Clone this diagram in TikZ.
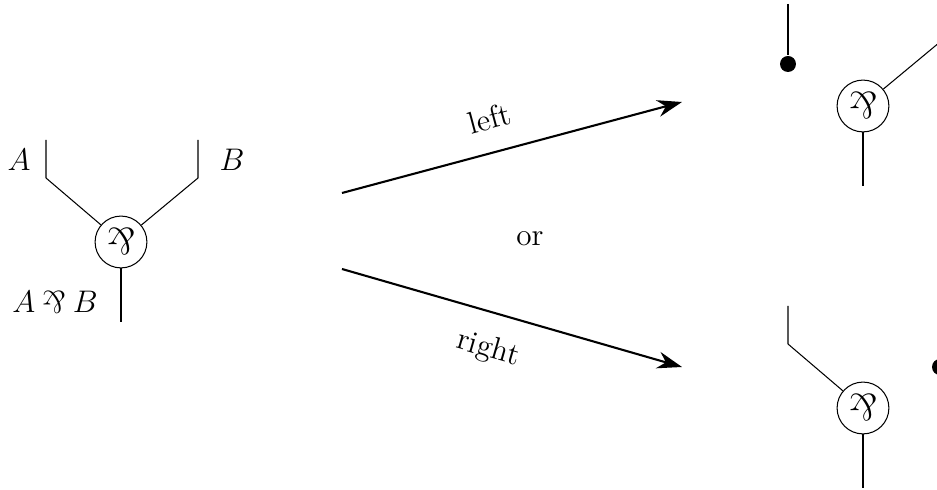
\documentclass[tikz,border=0pt]{standalone}
\usepackage{amsmath,amssymb}
\usepackage{graphicx}
\usetikzlibrary{arrows.meta}
\newcommand{\parrsym}{\mathbin{\rotatebox[origin=c]{180}{$\&$}}}

\begin{document}
\begin{tikzpicture}[x=0.0135cm, y=-0.0135cm, every node/.style={font=\large}, >={Stealth[length=9.5pt, width=6.5pt]},
	parlink/.style={draw, circle, minimum size=0.70cm, inner sep=0pt, font=\Large},
	cutdot/.style={circle, fill, minimum size=0.216cm, inner sep=0pt}]
	\useasboundingbox (0,0) rectangle (937,490);
	\foreach \n/\x/\y in {p/121/242, l/863/106, r/863/408} {
		\node[parlink] (\n) at (\x,\y) {$\parrsym$};
		\coordinate (\n-a) at ({\x-75},{\y-64}); \coordinate (\n-at) at ({\x-75},{\y-102});
		\coordinate (\n-b) at ({\x+77},{\y-64}); \coordinate (\n-bt) at ({\x+77},{\y-102});
		\coordinate (\n-c) at (\x,{\y+80});
		\draw (\n) -- (\n-c);
	}
	\draw (p-at) -- (p-a) -- (p) -- (p-b) -- (p-bt);
	\node (la) at (19,160) {$A$};
	\node (lb) at (232,160) {$B$};
	\node (lab) at (55,302) {$A \parrsym B$};
	% left premise cut away
	\node[cutdot] (l-cut) at (788,64) {};
	\draw (l-at) -- (l-cut);
	\draw (l) -- (l-b) -- (l-bt);
	% right premise cut away
	\node[cutdot] (r-cut) at (940,367) {};
	\draw (r-bt) -- (r-cut);
	\draw (r-at) -- (r-a) -- (r);
	\coordinate (s1) at (342,193); \coordinate (t1) at (682,102);
	\coordinate (s2) at (342,269); \coordinate (t2) at (682,367);
	\draw[->, thick] (s1) -- node[sloped, above=5pt, pos=0.46] (ll) {left} (t1);
	\draw[->, thick] (s2) -- node[sloped, below=5pt, pos=0.46] (lr) {right} (t2);
	\node (or) at (530,239) {or};
\end{tikzpicture}
\end{document}
